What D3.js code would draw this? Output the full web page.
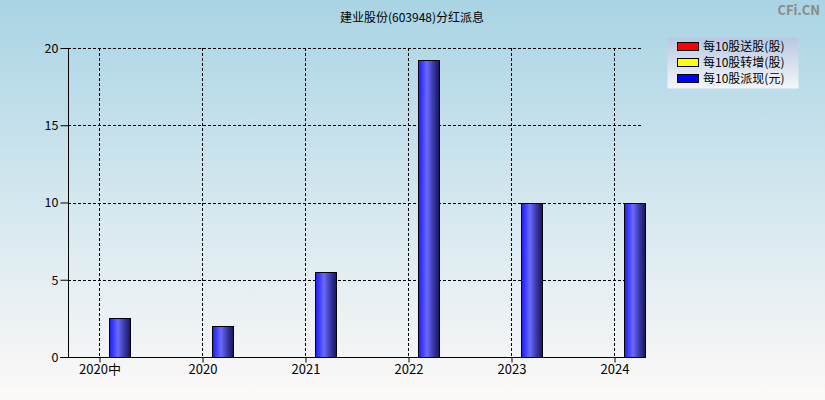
<!DOCTYPE html>
<html><head><meta charset="utf-8">
<script src="https://cdn.jsdelivr.net/npm/d3@7"></script>
<style>body{margin:0;padding:0;overflow:hidden}svg{display:block}text{font-family:"Noto Sans CJK SC","DejaVu Sans",sans-serif}</style>
</head><body>
<script>
const categories = ["2020中","2020","2021","2022","2023","2024"];
const songgu = [0,0,0,0,0,0];
const zhuanzeng = [0,0,0,0,0,0];
const paixian = [2.5,2.0,5.5,19.2,10,10];
const yTicks = [0,5,10,15,20];
const legendLabels = ["每10股送股(股)","每10股转增(股)","每10股派现(元)"];
const legendColors = ["#ff0000","#ffff00","#0000ff"];
const title = "建业股份(603948)分红派息";

(function(){
const W=825,H=400;
const svg=d3.select("body").append("svg").attr("width",W).attr("height",H);
const defs=svg.append("defs");
const bg=defs.append("linearGradient").attr("id","bg").attr("x1",0).attr("y1",0).attr("x2",0).attr("y2",1);
bg.append("stop").attr("offset","0%").attr("stop-color","#a9d4e4");
bg.append("stop").attr("offset","55%").attr("stop-color","#d8e9f0");
bg.append("stop").attr("offset","100%").attr("stop-color","#fdf9f7");
svg.append("rect").attr("width",W).attr("height",H).attr("fill","url(#bg)");

const bar=defs.append("linearGradient").attr("id","bar").attr("x1",0).attr("y1",0).attr("x2",1).attr("y2",0);
bar.append("stop").attr("offset","0%").attr("stop-color","#1e1ee8");
bar.append("stop").attr("offset","18%").attr("stop-color","#3c3cff");
bar.append("stop").attr("offset","40%").attr("stop-color","#6a6aff");
bar.append("stop").attr("offset","70%").attr("stop-color","#3a3aa8");
bar.append("stop").attr("offset","100%").attr("stop-color","#15155e");

const lg=defs.append("linearGradient").attr("id","lg").attr("x1",0).attr("y1",0).attr("x2",0).attr("y2",1);
lg.append("stop").attr("offset","0%").attr("stop-color","#b8c8e2");
lg.append("stop").attr("offset","100%").attr("stop-color","#f4f6fa");

const pl=68,pr=643,pt=48,pb=357;
const step=103, x0=99;
const x=d3.scalePoint().domain(categories).range([x0,x0+step*(categories.length-1)]);
const y=d3.scaleLinear().domain([0,20]).range([pb,pt]);

svg.append("text").attr("x",412).attr("y",22).attr("text-anchor","middle").attr("font-size",12).attr("fill","#000").text(title);
svg.append("text").attr("x",820).attr("y",15).attr("text-anchor","end").attr("font-size",13).attr("font-weight","bold").attr("fill","#8a8a8a").attr("font-family","DejaVu Sans,sans-serif").text("CFi.CN");

const g=svg.append("g");
g.selectAll(".hg").data(yTicks.filter(d=>d>0)).join("line")
 .attr("x1",pl).attr("x2",pr).attr("y1",d=>Math.round(y(d))+0.5).attr("y2",d=>Math.round(y(d))+0.5)
 .attr("stroke","#000").attr("stroke-dasharray","3,2");
g.selectAll(".vg").data(categories).join("line")
 .attr("x1",d=>x(d)+0.5).attr("x2",d=>x(d)+0.5).attr("y1",pt).attr("y2",pb)
 .attr("stroke","#000").attr("stroke-dasharray","3,2");

const bw=21, off=10;
g.selectAll(".bar").data(paixian).join("rect")
 .attr("x",(d,i)=>x(categories[i])+off+0.5).attr("width",bw)
 .attr("y",d=>Math.round(y(d))+0.5).attr("height",d=>pb-Math.round(y(d)))
 .attr("fill","url(#bar)").attr("stroke","#000").attr("stroke-width",1);

const ya=d3.axisLeft(y).tickValues(yTicks).tickSize(8).tickPadding(2).tickFormat(d3.format("d"));
const yg=svg.append("g").attr("transform",`translate(${pl+0.5},0)`).call(ya);
yg.select(".domain").attr("d",`M0,${pt}V${pb+0.5}`).attr("stroke","#000");
yg.selectAll(".tick line").attr("stroke","#000");
yg.selectAll(".tick text").attr("font-size",12.5).attr("fill","#000").attr("font-family","DejaVu Sans,sans-serif").attr("dy","0.35em");

svg.append("line").attr("x1",60).attr("x2",645).attr("y1",pb+0.5).attr("y2",pb+0.5).attr("stroke","#000");
const xa=d3.axisBottom(x).tickSize(5).tickPadding(2);
const xg=svg.append("g").attr("transform",`translate(0.5,${pb+0.5})`).call(xa);
xg.select(".domain").remove();
xg.selectAll(".tick line").attr("stroke","#000");
xg.selectAll(".tick text").attr("font-size",13).attr("fill","#000").attr("font-family","DejaVu Sans,'Noto Sans CJK SC',sans-serif");

const L=svg.append("g");
L.append("rect").attr("x",667.5).attr("y",37.5).attr("width",131).attr("height",51).attr("fill","url(#lg)");
legendLabels.forEach((t,i)=>{
  L.append("rect").attr("x",677.5).attr("y",42.5+i*16).attr("width",21).attr("height",8).attr("fill",legendColors[i]).attr("stroke","#000");
  L.append("text").attr("x",703).attr("y",46.5+i*16).attr("dy","0.35em").attr("font-size",12).attr("fill","#000").text(t);
});
})();
</script>
</body></html>
